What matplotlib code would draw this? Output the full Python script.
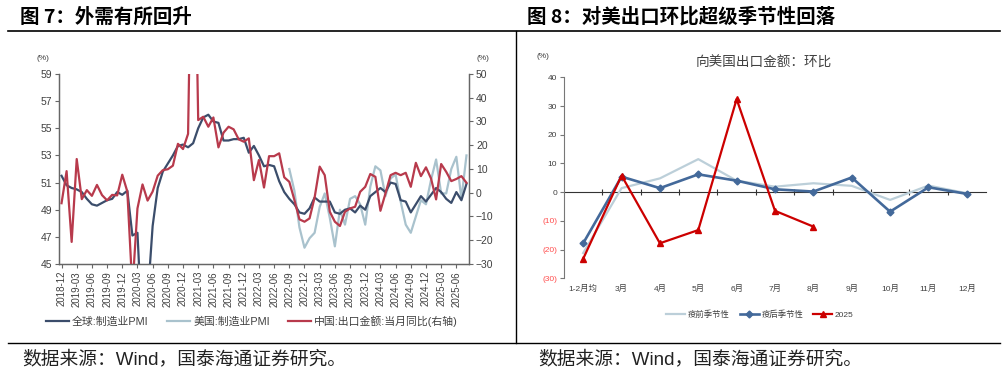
import numpy as np
import pandas as pd
import matplotlib
matplotlib.use("Agg")
import matplotlib.pyplot as plt
from matplotlib.lines import Line2D

plt.rcParams['font.family'] = ['Liberation Sans', 'Noto Sans CJK SC', 'DejaVu Sans']
plt.rcParams['axes.unicode_minus'] = True

# ---- left chart data: monthly, 2018-12 .. 2025-08
months = pd.period_range('2018-12', '2025-08', freq='M')

global_pmi = [51.5,
              50.8, 50.6, 50.5, 50.3, 49.8, 49.4, 49.3, 49.5, 49.7, 49.8, 50.3, 50.1,
              50.4, 47.1, 47.3, 39.6, 42.4, 47.8, 50.6, 51.8, 52.4, 53.0, 53.7, 53.8,
              53.6, 53.9, 55.0, 55.8, 56.0, 55.5, 55.4, 54.1, 54.1, 54.2, 54.2, 54.3,
              53.2, 53.7, 53.0, 52.2, 52.3, 52.2, 51.1, 50.3, 49.8, 49.4, 48.8, 48.7,
              49.1, 49.9, 49.6, 49.6, 49.6, 48.8, 48.7, 49.0, 49.1, 48.8, 49.3, 49.0,
              50.0, 50.3, 50.6, 50.3, 51.0, 50.9, 49.7, 49.6, 48.8, 49.4, 50.0, 49.6,
              50.1, 50.6, 50.3, 49.8, 49.5, 50.3, 49.7, 50.9]

# US PMI starts 2022-09
us_start = 45
us_pmi = [52.0, 50.4, 47.7, 46.2,
          46.9, 47.3, 49.2, 50.2, 48.4, 46.3, 49.0, 47.9, 49.8, 50.0, 49.4, 47.9,
          50.7, 52.2, 51.9, 50.0, 51.3, 51.6, 49.6, 47.9, 47.3, 48.5, 49.7, 49.4,
          51.2, 52.7, 50.2, 50.2, 52.0, 52.9, 49.8, 53.0]

china_export = [-4.4,
                9.1, -20.7, 14.2, -2.7, 1.1, -1.3, 3.3, -1.0, -3.2, -0.9, -1.1, 7.6,
                0.5, -40.6, -6.6, 3.5, -3.3, 0.5, 7.2, 9.5, 9.9, 11.4, 20.6, 18.4,
                24.8, 154.9, 30.6, 32.0, 27.8, 31.7, 19.1, 25.3, 27.8, 26.7, 22.5, 21.5,
                22.9, 5.3, 13.8, 2.2, 15.4, 15.4, 16.6, 6.5, 4.6, -3.0, -11.2, -12.2,
                -10.8, -2.0, 11.0, 7.4, -8.0, -12.2, -14.0, -8.0, -6.6, -5.9, 0.4, 2.5,
                7.9, 6.7, -7.6, -0.3, 7.4, 8.4, 7.4, 8.4, 2.5, 12.6, 7.0, 10.7,
                6.0, -2.8, 12.1, 8.8, 4.9, 5.8, 7.0, 4.2]

# ---- right chart data
cats = ['1-2月均', '3月', '4月', '5月', '6月', '7月', '8月', '9月', '10月', '11月', '12月']
pre_covid = [-21.2, 1.4, 4.8, 11.5, 4.0, 1.9, 3.1, 2.2, -2.7, 2.3, -0.4]
post_covid = [-17.8, 5.4, 1.4, 6.2, 4.0, 1.0, 0.2, 5.1, -6.8, 1.7, -0.6]
y2025 = [-23.2, 5.8, -17.8, -13.2, 32.4, -6.5, -12.0]

navy = '#3b4d6b'
light = '#a9c2cd'
red = '#b83a4c'
tick_c = '#404040'
W, H = 1008, 375

fig = plt.figure(figsize=(W / 100, H / 100), dpi=100)

# ---------------- left chart ----------------
ax = fig.add_axes([59 / W, 1 - 264 / H, 410 / W, 190 / H])
ax2 = ax.twinx()
x = np.arange(len(months))
l1, = ax.plot(x, global_pmi, color=navy, lw=1.6, zorder=3)
l2, = ax.plot(x[us_start:], us_pmi, color=light, lw=1.6, zorder=2)
l3, = ax2.plot(x, china_export, color=red, lw=1.6)

ax.set_xlim(-0.5, len(months) - 0.5)
ax.set_ylim(45, 59)
ax.set_yticks(range(45, 60, 2))
ax2.set_ylim(-30, 50)
ax2.set_yticks(range(-30, 51, 10))
ax.set_xticks(x[::3])
ax.set_xticklabels([m.strftime('%Y-%m') for m in months[::3]], rotation=90)

for a in (ax, ax2):
    a.spines['top'].set_visible(False)
    for s in ('left', 'right', 'bottom'):
        a.spines[s].set_color('#666666')
        a.spines[s].set_linewidth(0.9)
    a.tick_params(direction='out', length=3, width=0.8, color='#666666',
                  labelsize=7.5, labelcolor=tick_c, pad=2)
ax.tick_params(axis='x', labelsize=7)

fig.text(43 / W, 1 - 59 / H, '(%)', fontsize=6, color=tick_c, ha='center', va='center')
fig.text(483 / W, 1 - 59 / H, '(%)', fontsize=6, color=tick_c, ha='center', va='center')

fig.legend([l1, l2, l3], ['全球:制造业PMI', '美国:制造业PMI', '中国:出口金额:当月同比(右轴)'],
           loc='center', bbox_to_anchor=(252 / W, 1 - 321 / H), ncol=3, frameon=False,
           fontsize=7.8, handlelength=2.1, columnspacing=1.7, handletextpad=0.3,
           labelcolor=tick_c)

# ---------------- right chart ----------------
axr = fig.add_axes([564 / W, 1 - 278.3 / H, 422 / W, 201 / H])
xr = np.arange(len(cats))
r1, = axr.plot(xr, pre_covid, color='#bccfd9', lw=1.6)
r2, = axr.plot(xr, post_covid, color='#43699a', lw=1.9, marker='D', ms=3.5)
r3, = axr.plot(xr[:len(y2025)], y2025, color='#cc0000', lw=1.6, marker='^', ms=4)

axr.set_xlim(-0.5, len(cats) - 0.5)
axr.set_ylim(-30, 40)
yt = list(range(-30, 41, 10))
axr.set_yticks(yt)
axr.set_yticklabels([f'({-v})' if v < 0 else str(v) for v in yt])
for v, lab in zip(yt, axr.get_yticklabels()):
    lab.set_color('#ff4d4d' if v < 0 else tick_c)
axr.set_xticks(xr)
axr.set_xticklabels(cats)
for s in ('top', 'right', 'bottom'):
    axr.spines[s].set_visible(False)
axr.spines['left'].set_color('#777777')
axr.tick_params(axis='y', direction='out', length=3, color='#777777', labelsize=6, pad=2)
axr.tick_params(axis='x', length=0, labelsize=6, labelcolor=tick_c, pad=5)

zero = axr.secondary_xaxis(30 / 70)
zero.set_xticks(np.arange(0.5, len(cats) - 0.5, 1))
zero.tick_params(direction='inout', length=4, color='#333333', labelbottom=False)
zero.spines['bottom'].set_color('#333333')

fig.text(543 / W, 1 - 56 / H, '(%)', fontsize=6, color=tick_c, ha='center', va='center')
fig.text(764 / W, 1 - 63 / H, '向美国出口金额：环比', fontsize=9.8, color=tick_c,
         ha='center', va='center', family=['Noto Sans CJK SC'])

fig.legend([r1, r2, r3], ['疫前季节性', '疫后季节性', '2025'],
           loc='center', bbox_to_anchor=(760 / W, 1 - 315 / H), ncol=3, frameon=False,
           fontsize=6, handlelength=2.3, columnspacing=1.2, handletextpad=0.3,
           labelcolor=tick_c)

# ---------------- frame, titles, sources ----------------
fig.add_artist(Line2D([8 / W, 1000 / W], [1 - 31 / H] * 2, color='black', lw=1.2))
fig.add_artist(Line2D([8 / W, 1000 / W], [1 - 343 / H] * 2, color='black', lw=1.0))
fig.add_artist(Line2D([516 / W] * 2, [1 - 31 / H, 1 - 343 / H], color='black', lw=1.0))

fig.text(20 / W, 1 - 17 / H, '图 7：外需有所回升', fontsize=14, fontweight='bold',
         ha='left', va='center', family=['Noto Sans CJK SC'])
fig.text(527 / W, 1 - 17 / H, '图 8：对美出口环比超级季节性回落', fontsize=14,
         fontweight='bold', ha='left', va='center', family=['Noto Sans CJK SC'])
fig.text(22 / W, 1 - 359 / H, '数据来源：Wind，国泰海通证券研究。', fontsize=13.5,
         ha='left', va='center', color='#222222')
fig.text(538 / W, 1 - 359 / H, '数据来源：Wind，国泰海通证券研究。', fontsize=13.5,
         ha='left', va='center', color='#222222')

fig.savefig('out.png', dpi=100)
